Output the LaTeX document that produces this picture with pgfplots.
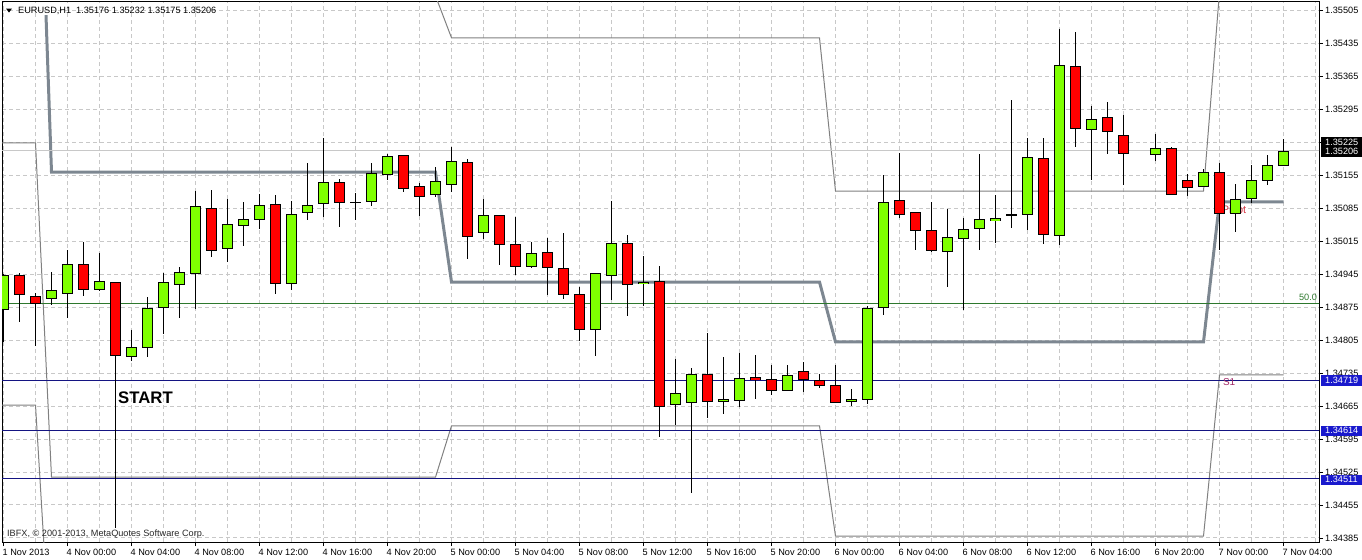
\documentclass[border=0pt]{standalone}
\usepackage{pgfplots}
\usepackage{pgfplotstable}
\pgfplotsset{compat=1.18}
\usepackage{fontspec}
\setmainfont{Liberation Sans}

\definecolor{bullc}{RGB}{127,255,0}
\definecolor{bearc}{RGB}{255,0,0}
\definecolor{gridc}{RGB}{200,200,200}
\definecolor{pivc}{RGB}{125,135,145}
\definecolor{srline}{RGB}{128,128,128}
\definecolor{navyc}{RGB}{20,20,130}
\definecolor{lvl}{RGB}{45,120,45}
\definecolor{tagblue}{RGB}{25,25,205}
\definecolor{pivtxt}{RGB}{215,60,75}
\definecolor{s1txt}{RGB}{160,40,100}
\newcommand\lbl{\fontsize{9.2}{10}\selectfont}

% H1 candles, k = hours after 4 Nov 00:00
\pgfplotstableread{
k o h l c
-4 1.34870 1.34945 1.34801 1.34943
-1 1.34893 1.34949 1.34879 1.34910
0 1.34904 1.34996 1.34853 1.34966
2 1.34913 1.34992 1.34911 1.34930
4 1.34771 1.34826 1.34761 1.34790
5 1.34791 1.34896 1.34770 1.34874
6 1.34874 1.34947 1.34818 1.34927
7 1.34923 1.34960 1.34852 1.34949
8 1.34947 1.35122 1.34872 1.35089
10 1.35000 1.35104 1.34971 1.35051
11 1.35048 1.35098 1.35005 1.35062
12 1.35061 1.35115 1.35041 1.35091
14 1.34925 1.35100 1.34911 1.35072
15 1.35077 1.35183 1.35062 1.35091
16 1.35095 1.35233 1.35066 1.35140
19 1.35099 1.35181 1.35090 1.35159
20 1.35157 1.35200 1.35144 1.35195
23 1.35114 1.35171 1.35108 1.35141
24 1.35135 1.35215 1.35120 1.35184
26 1.35033 1.35104 1.35020 1.35070
29 1.34961 1.35013 1.34958 1.34989
33 1.34828 1.34948 1.34771 1.34947
34 1.34942 1.35099 1.34890 1.35010
36 1.34925 1.34983 1.34878 1.34929
38 1.34669 1.34766 1.34627 1.34694
39 1.34673 1.34747 1.34481 1.34733
41 1.34676 1.34769 1.34649 1.34681
42 1.34677 1.34777 1.34663 1.34723
45 1.34698 1.34752 1.34697 1.34730
49 1.34676 1.34701 1.34666 1.34681
50 1.34681 1.34879 1.34670 1.34874
51 1.34874 1.35155 1.34859 1.35098
55 1.34994 1.35084 1.34918 1.35023
56 1.35021 1.35063 1.34869 1.35041
57 1.35041 1.35201 1.34998 1.35061
58 1.35059 1.35113 1.35011 1.35063
60 1.35072 1.35233 1.35038 1.35193
62 1.35027 1.35465 1.35008 1.35388
64 1.35254 1.35301 1.35144 1.35275
68 1.35201 1.35243 1.35185 1.35212
71 1.35132 1.35169 1.35130 1.35161
73 1.35074 1.35136 1.35033 1.35103
74 1.35105 1.35177 1.35098 1.35144
75 1.35144 1.35197 1.35134 1.35176
76 1.35176 1.35232 1.35175 1.35206
}\bull
\pgfplotstableread{
k o h l c
-3 1.34942 1.34947 1.34844 1.34902
-2 1.34900 1.34904 1.34792 1.34884
1 1.34966 1.35013 1.34899 1.34913
3 1.34927 1.34930 1.34408 1.34773
9 1.35086 1.35125 1.34982 1.34996
13 1.35093 1.35113 1.34904 1.34925
17 1.35140 1.35146 1.35045 1.35099
21 1.35197 1.35198 1.35120 1.35127
22 1.35131 1.35139 1.35068 1.35111
25 1.35184 1.35190 1.34977 1.35027
27 1.35070 1.35071 1.34964 1.35008
28 1.35008 1.35068 1.34945 1.34961
30 1.34991 1.35020 1.34899 1.34959
31 1.34959 1.35034 1.34893 1.34904
32 1.34902 1.34918 1.34805 1.34828
35 1.35010 1.35028 1.34856 1.34924
37 1.34929 1.34962 1.34599 1.34664
40 1.34733 1.34822 1.34642 1.34675
43 1.34726 1.34775 1.34681 1.34722
44 1.34722 1.34752 1.34690 1.34698
46 1.34739 1.34758 1.34694 1.34722
47 1.34720 1.34734 1.34703 1.34709
48 1.34708 1.34754 1.34672 1.34673
52 1.35101 1.35202 1.35064 1.35072
53 1.35074 1.35077 1.34996 1.35037
54 1.35038 1.35098 1.34992 1.34996
61 1.35190 1.35235 1.35010 1.35029
63 1.35385 1.35458 1.35215 1.35254
65 1.35277 1.35312 1.35201 1.35247
66 1.35239 1.35284 1.35134 1.35202
69 1.35212 1.35215 1.35113 1.35114
70 1.35144 1.35157 1.35110 1.35129
72 1.35161 1.35180 1.34996 1.35074
}\bear
\pgfplotstableread{
k o h l c
18 1.35098 1.35119 1.35062 1.35098
59 1.35071 1.35316 1.35045 1.35071
}\doji

% wick: high-low line; body: open-close bar, #4 widens/narrows by half a pixel
\newcommand\wicks[1]{\addplot[draw=none, mark=none, error bars/.cd, y dir=both, y explicit,
  error mark=none, error bar style={draw=black, line width=1bp, solid}]
  table[x=k, y expr={(\thisrow{h}+\thisrow{l})/2}, y error expr={(\thisrow{h}-\thisrow{l})/2}] {#1};}
\newcommand\bodies[4]{\addplot[draw=none, mark=none, error bars/.cd, y dir=both, y explicit,
  error mark=none, error bar style={draw=#2, line width=#3, solid}]
  table[x=k, y expr={(\thisrow{o}+\thisrow{c})/2}, y error expr={abs(\thisrow{c}-\thisrow{o})/2#4}] {#1};}

\begin{document}
\begin{tikzpicture}
\path[use as bounding box] (0,0) rectangle (1362bp,-560bp);
\begin{axis}[
  at={(2bp,-2bp)}, anchor=north west,
  scale only axis, width=1317bp, height=540bp,
  xmin=-4.094, xmax=78.22, ymin=1.343765, ymax=1.35522,
  axis line style={black, line width=1bp},
  tick align=outside, major tick length=4bp, minor tick length=0pt,
  tick style={black, line width=0.8bp},
  xtick pos=left, ytick pos=right, yticklabel pos=right,
  xtick={-4,0,4,8,12,16,20,24,28,32,36,40,44,48,52,56,60,64,68,72,76},
  xticklabels={1 Nov 2013, 4 Nov 00:00, 4 Nov 04:00, 4 Nov 08:00, 4 Nov 12:00, 4 Nov 16:00, 4 Nov 20:00,
    5 Nov 00:00, 5 Nov 04:00, 5 Nov 08:00, 5 Nov 12:00, 5 Nov 16:00, 5 Nov 20:00,
    6 Nov 00:00, 6 Nov 04:00, 6 Nov 08:00, 6 Nov 12:00, 6 Nov 16:00, 6 Nov 20:00,
    7 Nov 00:00, 7 Nov 04:00},
  minor xtick={-2,2,6,10,14,18,22,26,30,34,38,42,46,50,54,58,62,66,70,74,78},
  ytick={1.34385,1.34455,1.34525,1.34595,1.34665,1.34735,1.34805,1.34875,1.34945,
    1.35015,1.35085,1.35155,1.35225,1.35295,1.35365,1.35435,1.35505},
  yticklabels={1.34385,1.34455,1.34525,1.34595,1.34665,1.34735,1.34805,1.34875,1.34945,
    1.35015,1.35085,1.35155,1.35225,1.35295,1.35365,1.35435,1.35505},
  /pgf/number format/assume math mode=true,
  ticklabel style={font=\lbl, inner sep=0pt},
  xticklabel style={anchor=north west, xshift=-1bp, yshift=-3bp},
  yticklabel style={anchor=west, xshift=2bp},
  grid=both,
  major grid style={gridc, dash pattern=on 4bp off 3bp, line width=1bp},
  minor grid style={gridc, dash pattern=on 4bp off 3bp, line width=1bp},
]
% pivot indicator lines (behind the candles)
\addplot[srline, line width=1bp] coordinates {(-4.2,1.34667) (-2,1.34667) (-1,1.34105)};
\addplot[srline, line width=1bp] coordinates {(-4.2,1.35223) (-2,1.35223) (-1,1.34514) (23,1.34514)
  (24,1.34623) (47,1.34623) (48,1.34389) (71,1.34389) (72,1.34731) (76,1.34731)};
\addplot[srline, line width=1bp] coordinates {(-1,1.35535) (23,1.35535) (24,1.35446) (47,1.35446)
  (48,1.35121) (71,1.35121) (72,1.35543) (76,1.35543)};
\addplot[pivc, line width=3bp] coordinates {(-1.344,1.35494) (-1,1.35161) (23,1.35161) (24,1.34928)
  (47,1.34928) (48,1.34801) (71,1.34801) (72,1.35098) (76,1.35098)};
% horizontal levels
\addplot[navyc, line width=1bp] coordinates {(-5,1.34719) (80,1.34719)};
\addplot[navyc, line width=1bp] coordinates {(-5,1.34614) (80,1.34614)};
\addplot[navyc, line width=1bp] coordinates {(-5,1.34511) (80,1.34511)};
\addplot[lvl, line width=1bp] coordinates {(-5,1.34883) (80,1.34883)};
\addplot[gridc, line width=1bp] coordinates {(-5,1.35206) (80,1.35206)};
\node[pivtxt, font=\fontsize{11}{12}\selectfont] at (axis cs:72.91,1.35081) {Pivot};
\node[s1txt, font=\fontsize{10}{11}\selectfont] at (axis cs:72.6,1.34716) {S1};
\node[lvl, font=\lbl, anchor=east, inner sep=0pt] at (axis cs:78.1,1.34896) {50.0};

% candles
\wicks{\bull}
\wicks{\bear}
\wicks{\doji}
\bodies{\bull}{black}{10.5bp}{+0.0000106}
\bodies{\bear}{black}{10.5bp}{+0.0000106}
\bodies{\doji}{black}{10.5bp}{+0.0000106}
\bodies{\bull}{bullc}{8.5bp}{-0.0000106}
\bodies{\bear}{bearc}{8.5bp}{-0.0000106}
\end{axis}

% price tags on the right scale
\fill[black] (1320.5bp,-137bp) rectangle (1362bp,-157bp);
\node[white, font=\lbl, anchor=west, inner sep=0pt] at (1325bp,-142.5bp) {1.35225};
\node[white, font=\lbl, anchor=west, inner sep=0pt] at (1325bp,-151.5bp) {1.35206};
\fill[tagblue] (1320.5bp,-375bp) rectangle (1362bp,-386bp);
\node[white, font=\lbl, anchor=west, inner sep=0pt] at (1325bp,-380.5bp) {1.34719};
\fill[tagblue] (1320.5bp,-425.5bp) rectangle (1362bp,-436bp);
\node[white, font=\lbl, anchor=west, inner sep=0pt] at (1325bp,-430.7bp) {1.34614};
\fill[tagblue] (1320.5bp,-474.5bp) rectangle (1362bp,-485bp);
\node[white, font=\lbl, anchor=west, inner sep=0pt] at (1325bp,-479.7bp) {1.34511};

% header, copyright and annotation
\fill[black] (6bp,-8.5bp) -- (12bp,-8.5bp) -- (9bp,-12.5bp) -- cycle;
\node[font=\lbl, anchor=west, inner sep=0pt] at (18bp,-10.7bp)
  {EURUSD,H1\hspace{0.55em}1.35176 1.35232 1.35175 1.35206};
\node[font=\lbl, text={rgb,255:red,40;green,40;blue,40}, anchor=west, inner sep=0pt] at (7bp,-534.5bp)
  {IBFX, \textcopyright\ 2001-2013, MetaQuotes Software Corp.};
\node[font=\fontsize{16.8}{18}\selectfont\bfseries, anchor=west, inner sep=0pt] at (118bp,-397.5bp) {START};
\end{tikzpicture}
\end{document}
